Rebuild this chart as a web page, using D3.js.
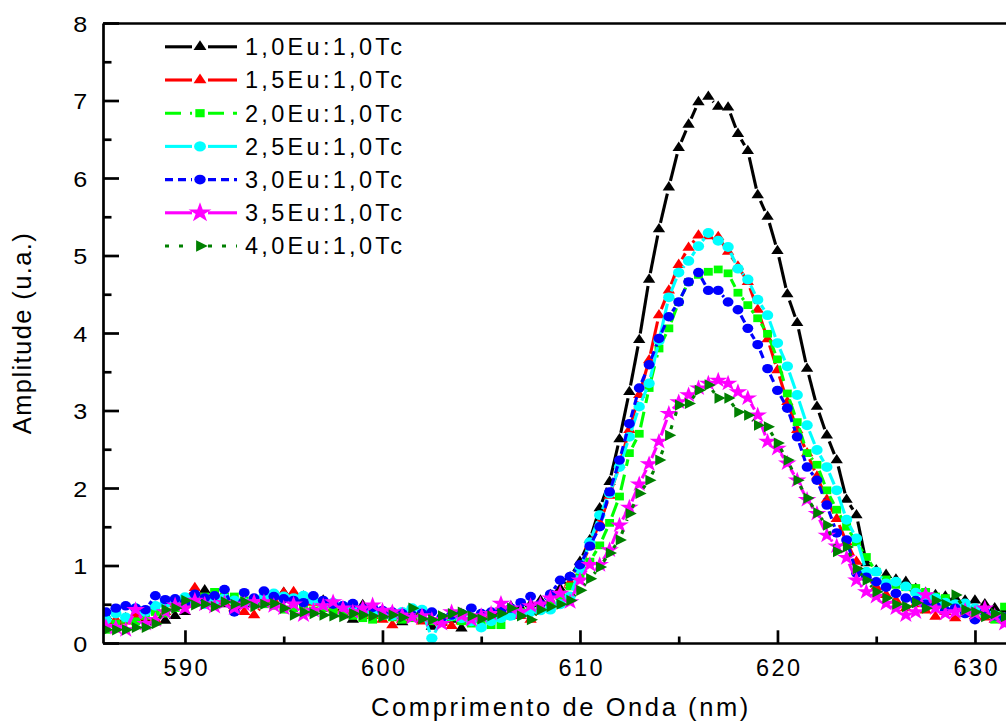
<!DOCTYPE html>
<html>
<head>
<meta charset="utf-8">
<script src="https://cdnjs.cloudflare.com/ajax/libs/d3/7.8.5/d3.min.js"></script>
<style>
  html, body { margin: 0; padding: 0; background: #ffffff; }
  svg { display: block; }
  text { font-family: "Liberation Sans", Arial, sans-serif; fill: #000; }
</style>
</head>
<body>
<svg id="chart" width="1006" height="724"></svg>
<script>
// ---------------- DATA ----------------
const wavelength = [586,586.5,587,587.5,588,588.5,589,589.5,590,590.5,591,591.5,592,592.5,593,593.5,594,594.5,595,595.5,596,596.5,597,597.5,598,598.5,599,599.5,600,600.5,601,601.5,602,602.5,603,603.5,604,604.5,605,605.5,606,606.5,607,607.5,608,608.5,609,609.5,610,610.5,611,611.5,612,612.5,613,613.5,614,614.5,615,615.5,616,616.5,617,617.5,618,618.5,619,619.5,620,620.5,621,621.5,622,622.5,623,623.5,624,624.5,625,625.5,626,626.5,627,627.5,628,628.5,629,629.5,630,630.5,631,631.5,632];

const amp10Eu = [0.35,0.27,0.32,0.38,0.30,0.27,0.29,0.35,0.40,0.55,
  0.68,0.55,0.50,0.48,0.50,0.52,0.55,0.60,0.65,0.64,
  0.60,0.59,0.55,0.50,0.45,0.30,0.49,0.42,0.38,0.35,
  0.27,0.32,0.30,0.21,0.28,0.30,0.19,0.30,0.33,0.35,
  0.40,0.47,0.45,0.50,0.55,0.62,0.70,0.85,1.05,1.33,
  1.74,2.08,2.63,3.24,3.91,4.69,5.34,5.88,6.39,6.69,
  6.98,7.05,6.92,6.91,6.57,6.35,5.78,5.50,5.06,4.50,
  4.13,3.54,3.05,2.68,2.36,1.85,1.65,1.03,0.94,0.88,
  0.82,0.79,0.70,0.65,0.62,0.60,0.58,0.55,0.55,0.50,
  0.45,0.42,0.40];

const amp15Eu = [0.28,0.30,0.28,0.35,0.33,0.30,0.40,0.50,0.55,0.71,
  0.55,0.50,0.52,0.45,0.40,0.36,0.50,0.55,0.65,0.66,
  0.55,0.52,0.50,0.45,0.42,0.40,0.38,0.35,0.30,0.23,
  0.30,0.32,0.28,0.30,0.26,0.22,0.28,0.30,0.32,0.35,
  0.38,0.40,0.35,0.30,0.45,0.55,0.65,0.78,0.95,1.25,
  1.55,1.90,2.30,2.75,3.20,3.65,4.23,4.55,4.88,5.10,
  5.26,5.25,5.24,5.05,4.86,4.66,4.30,3.92,3.52,3.11,
  2.75,2.45,2.15,1.85,1.60,1.30,1.05,0.85,0.72,0.62,
  0.55,0.45,0.50,0.42,0.34,0.40,0.32,0.38,0.35,0.33,
  0.30,0.32,0.30];

const amp20Eu = [0.17,0.25,0.30,0.28,0.35,0.40,0.38,0.45,0.50,0.55,
  0.60,0.66,0.60,0.60,0.55,0.52,0.50,0.48,0.43,0.45,
  0.48,0.42,0.45,0.40,0.38,0.35,0.32,0.30,0.35,0.33,
  0.30,0.32,0.35,0.28,0.30,0.33,0.28,0.25,0.27,0.23,
  0.23,0.35,0.40,0.42,0.45,0.50,0.60,0.73,0.85,1.05,
  1.26,1.55,1.89,2.45,2.70,3.29,3.80,4.06,4.40,4.66,
  4.75,4.79,4.82,4.77,4.52,4.36,4.19,3.99,3.66,3.22,
  2.85,2.45,2.30,1.97,1.72,1.50,1.30,1.11,0.92,0.82,
  0.75,0.72,0.71,0.66,0.60,0.58,0.50,0.45,0.40,0.38,
  0.30,0.47,0.35];

const amp25Eu = [0.30,0.38,0.33,0.45,0.40,0.48,0.51,0.55,0.59,0.52,
  0.50,0.55,0.58,0.55,0.52,0.55,0.60,0.64,0.60,0.58,
  0.61,0.55,0.50,0.52,0.48,0.45,0.42,0.40,0.38,0.35,
  0.40,0.45,0.43,0.06,0.30,0.35,0.32,0.28,0.20,0.28,
  0.32,0.35,0.38,0.40,0.42,0.43,0.50,0.60,0.95,1.30,
  1.65,1.93,2.27,2.66,3.05,3.35,3.90,4.46,4.78,4.93,
  5.12,5.29,5.19,5.11,4.83,4.69,4.43,4.23,3.87,3.57,
  3.20,2.81,2.49,2.27,1.97,1.59,1.35,0.92,0.92,0.77,
  0.79,0.73,0.65,0.60,0.58,0.52,0.50,0.51,0.45,0.40,
  0.36,0.33,0.32];

const amp30Eu = [0.40,0.45,0.48,0.45,0.43,0.61,0.56,0.57,0.52,0.63,
  0.58,0.61,0.69,0.40,0.65,0.58,0.67,0.60,0.57,0.55,
  0.52,0.61,0.55,0.50,0.48,0.51,0.45,0.46,0.42,0.40,
  0.38,0.36,0.38,0.40,0.33,0.36,0.38,0.45,0.38,0.40,
  0.42,0.45,0.52,0.60,0.50,0.63,0.81,0.86,1.01,1.25,
  1.50,1.95,2.36,2.83,3.29,3.59,3.93,4.21,4.40,4.66,
  4.78,4.55,4.55,4.40,4.30,4.06,3.85,3.54,3.26,3.03,
  2.66,2.27,2.10,1.78,1.42,1.33,0.90,0.85,0.79,0.72,
  0.64,0.58,0.55,0.50,0.48,0.42,0.45,0.38,0.30,0.40,
  0.35,0.33,0.30];

const amp35Eu = [0.21,0.20,0.17,0.43,0.25,0.30,0.40,0.49,0.45,0.55,
  0.50,0.47,0.52,0.45,0.50,0.53,0.53,0.48,0.45,0.50,
  0.36,0.42,0.48,0.53,0.45,0.40,0.45,0.49,0.42,0.40,
  0.36,0.33,0.35,0.30,0.25,0.40,0.35,0.30,0.35,0.38,
  0.51,0.45,0.40,0.48,0.50,0.58,0.64,0.53,0.81,1.01,
  1.01,1.20,1.52,1.75,2.05,2.31,2.60,2.96,3.11,3.20,
  3.29,3.35,3.39,3.35,3.24,3.16,2.94,2.60,2.51,2.32,
  2.10,1.85,1.67,1.39,1.25,1.10,0.81,0.66,0.60,0.51,
  0.45,0.36,0.40,0.62,0.45,0.38,0.40,0.42,0.38,0.45,
  0.35,0.25,0.28];

const amp40Eu = [0.17,0.17,0.17,0.20,0.20,0.25,0.43,0.45,0.55,0.49,
  0.50,0.47,0.53,0.50,0.53,0.47,0.50,0.51,0.45,0.36,
  0.40,0.38,0.36,0.35,0.34,0.38,0.36,0.35,0.34,0.36,
  0.33,0.45,0.31,0.30,0.35,0.38,0.40,0.35,0.31,0.35,
  0.38,0.45,0.35,0.30,0.43,0.47,0.50,0.55,0.68,0.83,
  0.98,1.16,1.33,1.67,1.93,2.10,2.36,2.68,3.07,3.09,
  3.26,3.33,3.16,3.16,2.98,2.94,2.81,2.79,2.58,2.36,
  2.10,1.87,1.68,1.52,1.18,1.24,0.96,0.81,0.66,0.58,
  0.50,0.47,0.52,0.45,0.55,0.50,0.62,0.43,0.40,0.34,
  0.38,0.34,0.30];

const seriesNames = ["1,0Eu:1,0Tc","1,5Eu:1,0Tc","2,0Eu:1,0Tc","2,5Eu:1,0Tc","3,0Eu:1,0Tc","3,5Eu:1,0Tc","4,0Eu:1,0Tc"];
const xTickValues = [590, 600, 610, 620, 630];
const xMinorTickValues = [595, 605, 615, 625];
const yTickValues = [0, 1, 2, 3, 4, 5, 6, 7, 8];
const yMinorTickValues = [0.5, 1.5, 2.5, 3.5, 4.5, 5.5, 6.5, 7.5];
const xTitle = "Comprimento de Onda (nm)";
const yTitle = "Amplitude (u.a.)";

// ---------------- STYLE ----------------
const styles = [
  {values: amp10Eu, color: "#000000", dash: null,    symbol: d3.symbolTriangle, size: 50, rot: 0},
  {values: amp15Eu, color: "#ff0000", dash: null,    symbol: d3.symbolTriangle, size: 50, rot: 0},
  {values: amp20Eu, color: "#00ff00", dash: "16,9",  symbol: d3.symbolSquare,   size: 60, rot: 0},
  {values: amp25Eu, color: "#00ffff", dash: null,    symbol: d3.symbolCircle,   size: 76, rot: 0},
  {values: amp30Eu, color: "#0000ff", dash: "8,5",   symbol: d3.symbolCircle,   size: 70, rot: 0},
  {values: amp35Eu, color: "#ff00ff", dash: null,    symbol: d3.symbolStar,     size: 82, rot: 0},
  {values: amp40Eu, color: "#008000", dash: "4,10",  symbol: d3.symbolTriangle, size: 54, rot: 90}
];
const LW = 3.1;
const MSX = 1.15;     // horizontal stretch of markers
const GAP = 6.5;      // gap between line and marker

const W = 1006, H = 724;
const L = 103, T = 23, B = 643;

const x = d3.scaleLinear().domain([585.85, 632]).range([L, L + 46.15 * 19.75]);
const y = d3.scaleLinear().domain([0, 8]).range([B, T]);

const svg = d3.select("#chart");
svg.append("rect").attr("width", W).attr("height", H).attr("fill", "#fff");

svg.append("defs").append("clipPath").attr("id", "plotclip")
  .append("rect").attr("x", L).attr("y", T).attr("width", W - L).attr("height", B - T);

function gapped(pts, gap) {
  const segs = [];
  for (let i = 0; i < pts.length - 1; i++) {
    const [x1, y1] = pts[i], [x2, y2] = pts[i + 1];
    const dx = x2 - x1, dy = y2 - y1, len = Math.hypot(dx, dy);
    if (len <= 2 * gap + 1) continue;
    const ux = dx / len, uy = dy / len;
    segs.push([x1 + ux * gap, y1 + uy * gap, x2 - ux * gap, y2 - uy * gap]);
  }
  return segs;
}

// ---------------- SERIES ----------------
const plot = svg.append("g").attr("clip-path", "url(#plotclip)");
styles.forEach(s => {
  const pts = wavelength.map((w, i) => [x(w), y(s.values[i])]);
  const g = plot.append("g");
  g.selectAll("line").data(gapped(pts, GAP)).join("line")
    .attr("x1", d => d[0]).attr("y1", d => d[1]).attr("x2", d => d[2]).attr("y2", d => d[3])
    .attr("stroke", s.color).attr("stroke-width", LW)
    .attr("stroke-dasharray", s.dash);
  const sym = d3.symbol().type(s.symbol).size(s.size);
  g.selectAll("path").data(pts).join("path")
    .attr("d", sym())
    .attr("transform", d => `translate(${d[0]},${d[1]}) scale(${MSX},1) rotate(${s.rot})`)
    .attr("fill", s.color);
});

// ---------------- AXES ----------------
const AX_W = 2.7;
const xAxis = d3.axisBottom(x).tickValues(xTickValues).tickSize(-12.7).tickSizeOuter(0).tickPadding(0).tickFormat(d3.format("d"));
const xMinor = d3.axisBottom(x).tickValues(xMinorTickValues).tickSize(-6.5).tickSizeOuter(0).tickFormat("");
const yAxis = d3.axisLeft(y).tickValues(yTickValues).tickSize(-16).tickSizeOuter(0).tickPadding(0).tickFormat(d3.format("d"));
const yMinor = d3.axisLeft(y).tickValues(yMinorTickValues).tickSize(-8.5).tickSizeOuter(0).tickFormat("");

const gx = svg.append("g").attr("transform", `translate(0,${B})`).call(xAxis);
svg.append("g").attr("transform", `translate(0,${B})`).call(xMinor).select(".domain").remove();
const gy = svg.append("g").attr("transform", `translate(${L},0)`).call(yAxis);
svg.append("g").attr("transform", `translate(${L},0)`).call(yMinor).select(".domain").remove();
svg.append("g").attr("transform", `translate(0,${T})`).call(d3.axisTop(x).tickValues([]).tickSizeOuter(0));

svg.selectAll(".domain, .tick line").attr("stroke", "#000").attr("stroke-width", AX_W);

gx.selectAll(".tick text")
  .attr("y", 32.5).attr("dy", 0).attr("x", 1.2)
  .attr("font-size", 23.5).attr("letter-spacing", 2.4).attr("fill", "#000");
gy.selectAll(".tick text")
  .attr("x", -14).attr("dy", "0.36em")
  .attr("transform", "scale(1.12,1)")
  .attr("font-size", 22.5).attr("fill", "#000").attr("text-anchor", "end");

// titles
svg.append("text").attr("x", 561).attr("y", 716)
  .attr("text-anchor", "middle").attr("font-size", 25.5).attr("letter-spacing", 2.6).text(xTitle);
svg.append("text").attr("transform", `translate(31,333) rotate(-90)`)
  .attr("text-anchor", "middle").attr("font-size", 25.5).attr("letter-spacing", 1.4).text(yTitle);

// ---------------- LEGEND ----------------
const legend = svg.append("g");
styles.forEach((s, i) => {
  const ly = 46.8 + i * 33.2;
  const g = legend.append("g");
  [[165, 200 - 8], [200 + 8, 237]].forEach(seg => {
    g.append("line").attr("x1", seg[0]).attr("x2", seg[1]).attr("y1", ly).attr("y2", ly)
      .attr("stroke", s.color).attr("stroke-width", LW).attr("stroke-dasharray", s.dash);
  });
  g.append("path").attr("d", d3.symbol().type(s.symbol).size(s.size * (s.symbol === d3.symbolStar ? 1.5 : 1.1))())
    .attr("transform", `translate(200,${ly}) scale(${MSX},1) rotate(${s.rot})`)
    .attr("fill", s.color);
  g.append("text").attr("x", 245).attr("y", ly + 8.3)
    .attr("font-size", 23.5).attr("letter-spacing", 3.3).text(seriesNames[i]);
});
</script>
</body>
</html>
